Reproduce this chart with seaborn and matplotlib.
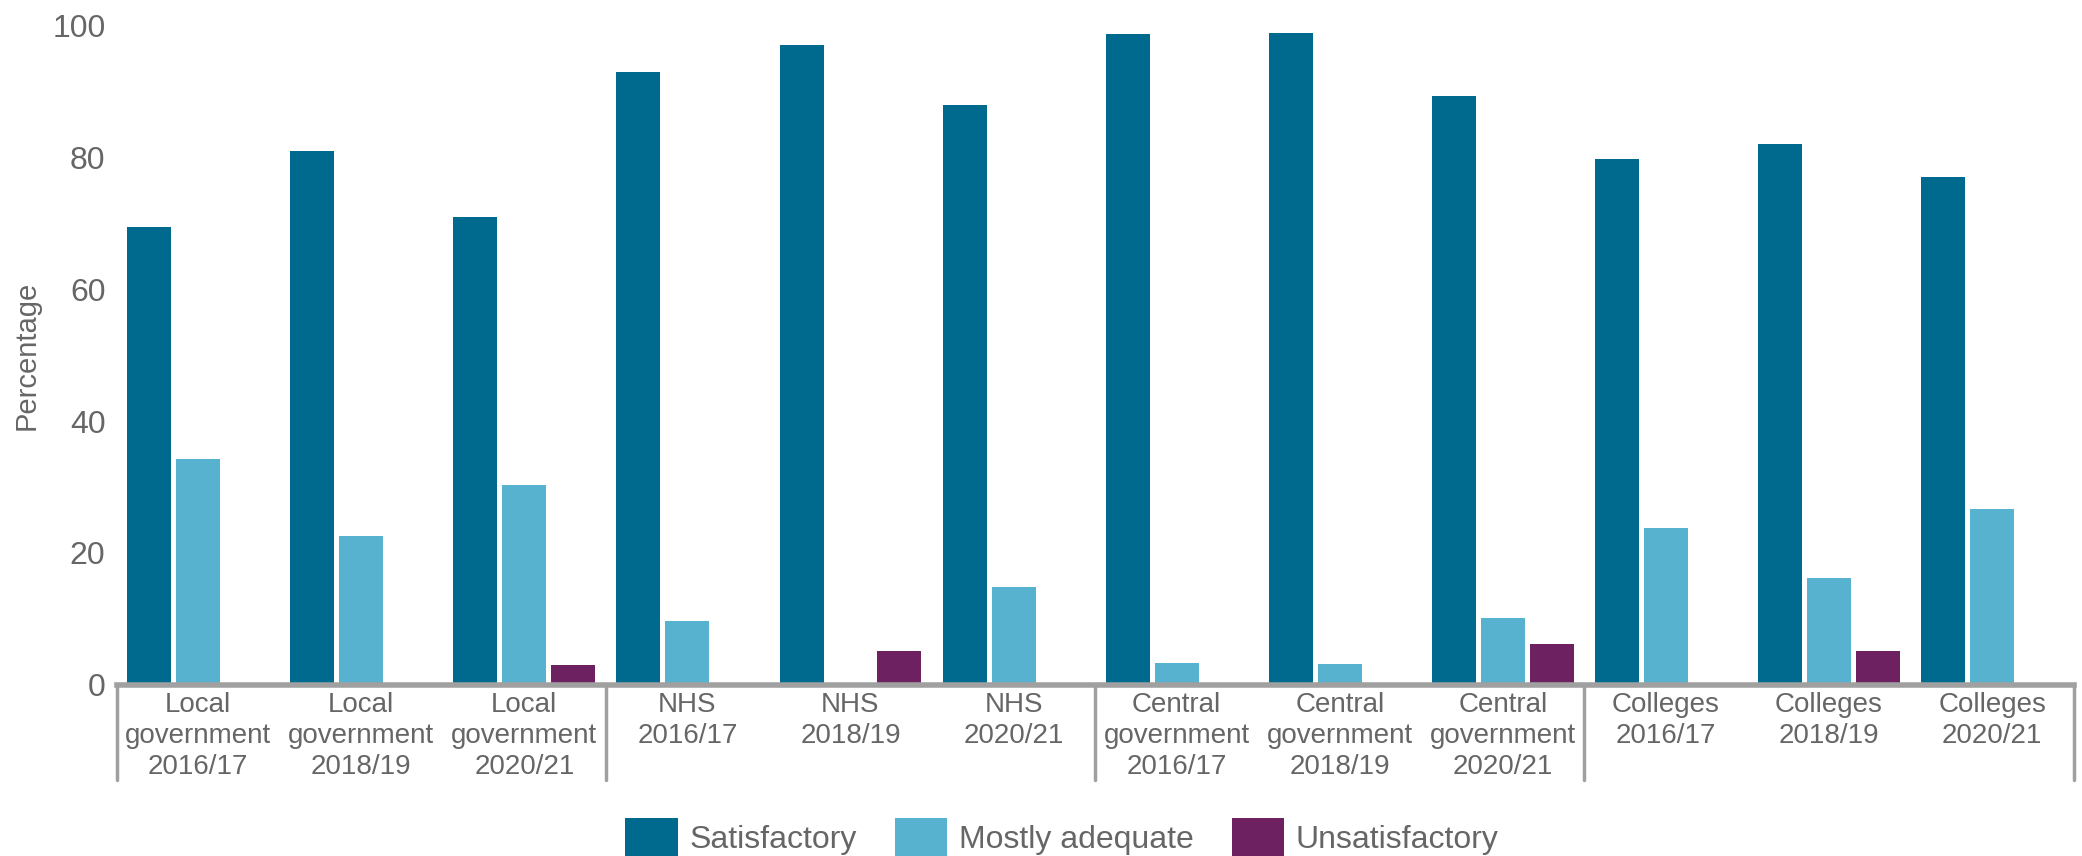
import pandas as pd
import seaborn as sns
import matplotlib.pyplot as plt
import matplotlib.transforms as mtransforms

categories = ['Local\ngovernment\n2016/17', 'Local\ngovernment\n2018/19', 'Local\ngovernment\n2020/21',
              'NHS\n2016/17', 'NHS\n2018/19', 'NHS\n2020/21',
              'Central\ngovernment\n2016/17', 'Central\ngovernment\n2018/19', 'Central\ngovernment\n2020/21',
              'Colleges\n2016/17', 'Colleges\n2018/19', 'Colleges\n2020/21']
ratings = ['Satisfactory', 'Mostly adequate', 'Unsatisfactory']
satisfactory = [69.5, 81.0, 70.9, 92.9, 97.0, 88.0, 98.8, 98.9, 89.3, 79.8, 82.0, 77.0]
mostly_adequate = [34.2, 22.6, 30.3, 9.7, 0, 14.8, 3.3, 3.1, 10.1, 23.8, 16.2, 26.6]
unsatisfactory = [0, 0, 3.0, 0, 5.2, 0, 0, 0, 6.2, 0, 5.2, 0]
yticks = [0, 20, 40, 60, 80, 100]

colors = ['#006A8E', '#56B2CE', '#6E2160']
grey_text = '#666666'
axis_grey = '#A0A0A0'

df = pd.DataFrame({
    'category': categories * 3,
    'rating': [r for r in ratings for _ in categories],
    'value': satisfactory + mostly_adequate + unsatisfactory,
})

sns.set_style('white')
plt.rcParams['font.family'] = ['Liberation Sans', 'DejaVu Sans']

fig = plt.figure(figsize=(20.82, 8.56), dpi=100)
ax = fig.add_axes([0.056, 0.2, 0.94, 0.77])

sns.barplot(data=df, x='category', y='value', hue='rating', hue_order=ratings,
            palette=colors, saturation=1, width=0.9, gap=0.1, linewidth=0,
            errorbar=None, ax=ax)

ax.set_xlim(-0.5, len(categories) - 0.5)
ax.set_ylim(0, 100)
ax.set_yticks(yticks)
ax.set_xlabel('')
ax.set_ylabel('Percentage', fontsize=21, color=grey_text, labelpad=8)

for s in ['top', 'right', 'left']:
    ax.spines[s].set_visible(False)
ax.spines['bottom'].set_color(axis_grey)
ax.spines['bottom'].set_linewidth(4)

ax.tick_params(axis='y', length=0, labelsize=23, labelcolor=grey_text, pad=8)
ax.tick_params(axis='x', length=0, labelsize=20, labelcolor=grey_text, pad=5)
for lab in ax.get_xticklabels():
    lab.set_linespacing(1.25)

# group separators below the axis
trans = mtransforms.blended_transform_factory(ax.transData, ax.transAxes)
for xb in [-0.5, 2.5, 5.5, 8.5, 11.5]:
    ax.plot([xb, xb], [0, -0.145], transform=trans, color=axis_grey, lw=2.5, clip_on=False)

sns.move_legend(ax, 'center', bbox_to_anchor=(0.51, 0.022), bbox_transform=fig.transFigure,
                ncol=3, frameon=False, title=None, fontsize=23, handlelength=1.65, handleheight=1.5,
                columnspacing=1.2, handletextpad=0.35)
for t in ax.get_legend().get_texts():
    t.set_color(grey_text)

plt.savefig('out.png', dpi=100)
